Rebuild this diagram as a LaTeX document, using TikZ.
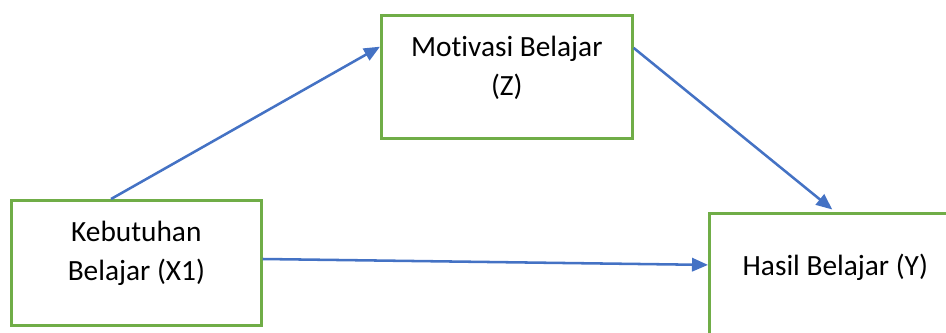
\documentclass[tikz,border=0pt]{standalone}
\usepackage{fontspec}
\setmainfont{Carlito}[Ligatures=CommonOff]
\usepackage{xcolor}
\usepackage{tikz}
\usetikzlibrary{arrows.meta,calc}
\definecolor{boxgreen}{HTML}{70AD47}
\definecolor{flowblue}{HTML}{4472C4}
\definecolor{bodytext}{HTML}{000000}
\tikzset{
  varbox/.style={draw=boxgreen, line width=2pt, inner sep=0pt, align=center,
               font=\fontsize{22}{29.25}\selectfont, text=bodytext},
  flowarrow/.style={-{Triangle[length=12pt,width=10pt]}, line width=1.9pt, flowblue},
}

\begin{document}
\begin{tikzpicture}[x=0.75pt, y=-0.75pt]

  \useasboundingbox (0,0) rectangle (946,332);
  \clip (0,0) rectangle (946,332);

  \node[varbox, anchor=north west, minimum width=187.5pt, text height=60pt, text depth=33.75pt] (kebutuhan) at (10,199) {Kebutuhan\\ Belajar (X1)};

  \node[varbox, anchor=north west, minimum width=188.25pt, text height=60pt, text depth=32.25pt] (motivasi) at (380,14) {Motivasi Belajar\\ (Z)};

  \node[varbox, anchor=north west, minimum width=189pt, text height=46.5pt, text depth=53.25pt] (hasil) at (708,212) {Hasil Belajar (Y)};

  \draw[flowarrow] ($(kebutuhan.north west)!0.4!(kebutuhan.north east)$) -- ($(motivasi.north west)!0.26!(motivasi.south west)$);
  \draw[flowarrow, shorten >=3pt] ($(motivasi.north east)!0.27!(motivasi.south east)$) -- (hasil.north);
  \draw[flowarrow] ($(kebutuhan.north east)!0.47!(kebutuhan.south east)$) -- ($(hasil.north west)!0.39!(hasil.south west)$);

\end{tikzpicture}
\end{document}
